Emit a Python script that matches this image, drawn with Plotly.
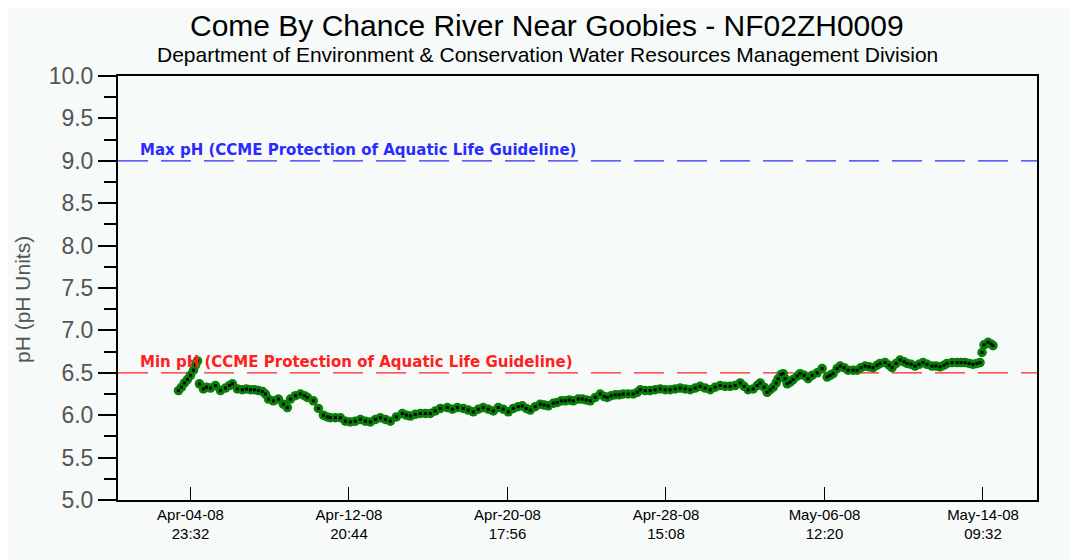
import pandas as pd
import plotly.graph_objects as go

# ---- data ----
start_time = "2008-04-04 23:32"
hours_from_start = [
    -14.3, -10.7, -7.2, -3.6, 0.0, 3.6, 6.0, 8.4, 10.7, 15.5, 19.1, 23.9, 29.8, 35.8, 41.8, 46.5,
    50.1, 56.1, 62.0, 66.8, 71.6, 76.4, 81.1, 85.9, 89.5, 93.1, 99.0, 105.0, 110.9, 115.7, 119.3,
    125.3, 131.2, 136.0, 139.6, 146.7, 152.7, 158.7, 163.4, 167.0, 173.0, 179.0, 184.9, 190.9,
    196.8, 202.8, 208.8, 214.7, 220.8, 226.7, 232.7, 238.6, 245.8, 252.9, 257.7, 262.5, 268.4,
    274.4, 280.4, 286.3, 292.3, 298.3, 306.6, 312.6, 318.6, 325.7, 331.7, 337.6, 343.6, 349.5,
    355.5, 361.5, 367.4, 373.4, 379.4, 385.3, 391.3, 396.1, 400.8, 405.6, 411.6, 417.6, 422.3,
    427.1, 433.1, 437.8, 442.6, 447.4, 452.1, 456.9, 462.9, 467.7, 472.4, 477.2, 483.2, 489.1,
    493.9, 497.5, 502.2, 507.0, 511.8, 516.6, 522.5, 528.5, 533.3, 536.9, 542.8, 548.8, 554.7,
    560.7, 566.7, 572.6, 578.6, 584.6, 590.5, 596.5, 602.5, 608.4, 614.4, 620.4, 626.3, 632.3,
    638.3, 644.2, 650.2, 656.2, 660.9, 665.7, 671.7, 676.5, 680.1, 684.8, 688.4, 692.0, 695.6,
    699.1, 701.5, 705.1, 707.5, 709.9, 712.3, 715.8, 719.4, 724.2, 727.7, 732.5, 737.3, 742.1,
    748.1, 754.0, 760.0, 763.5, 767.1, 771.9, 775.5, 780.2, 785.0, 791.0, 795.8, 800.5, 805.3,
    810.1, 814.8, 819.6, 823.2, 829.1, 833.9, 837.5, 842.3, 847.0, 851.8, 855.4, 860.2, 864.9,
    869.7, 874.5, 879.3, 885.2, 890.0, 894.8, 899.5, 903.1, 909.1, 915.1, 919.8, 924.6, 929.4,
    934.1, 938.9, 942.5, 944.9, 947.3, 952.1, 955.6, 958.0,
]
ph_values = [
    6.29, 6.33, 6.38, 6.42, 6.47, 6.53, 6.59, 6.64, 6.37, 6.31, 6.33, 6.32, 6.35, 6.29, 6.32, 6.35,
    6.37, 6.31, 6.30, 6.31, 6.30, 6.30, 6.29, 6.28, 6.25, 6.19, 6.17, 6.19, 6.13, 6.09, 6.19,
    6.23, 6.25, 6.23, 6.21, 6.17, 6.08, 6.00, 5.98, 5.97, 5.97, 5.97, 5.93, 5.92,
    5.93, 5.95, 5.93, 5.92, 5.95, 5.97, 5.95, 5.93, 5.98, 6.02, 6.00, 5.99, 6.01,
    6.02, 6.02, 6.02, 6.05, 6.08, 6.09, 6.07, 6.09, 6.08, 6.06, 6.04, 6.07, 6.09,
    6.07, 6.05, 6.09, 6.07, 6.04, 6.08, 6.10, 6.11, 6.08, 6.06, 6.10, 6.13, 6.12,
    6.11, 6.14, 6.15, 6.17, 6.17, 6.18, 6.17, 6.19, 6.19, 6.18, 6.17, 6.21, 6.25,
    6.22, 6.21, 6.23, 6.24, 6.24, 6.25, 6.25, 6.25, 6.27, 6.30, 6.29, 6.29, 6.30,
    6.31, 6.30, 6.30, 6.31, 6.32, 6.31, 6.30, 6.32, 6.34, 6.32, 6.30, 6.33, 6.35,
    6.34, 6.34, 6.35, 6.38, 6.34, 6.30, 6.31, 6.35, 6.38, 6.33, 6.27, 6.30, 6.33,
    6.38, 6.43, 6.48, 6.49, 6.43, 6.37, 6.39, 6.42, 6.46, 6.49, 6.47, 6.43, 6.47,
    6.50, 6.55, 6.45, 6.47, 6.49, 6.55, 6.58, 6.56, 6.53, 6.53, 6.53, 6.56, 6.58,
    6.57, 6.56, 6.59, 6.61, 6.62, 6.59, 6.56, 6.61, 6.65, 6.63, 6.61, 6.60, 6.58,
    6.60, 6.62, 6.60, 6.58, 6.58, 6.57, 6.59, 6.61, 6.62, 6.62, 6.62, 6.62, 6.61,
    6.60, 6.61, 6.62, 6.74, 6.83, 6.86, 6.84, 6.82,
]
tick_hours = [0.0, 189.2, 378.4, 567.6, 756.8, 946.0]
tick_labels = ["Apr-04-08<br>23:32", "Apr-12-08<br>20:44", "Apr-20-08<br>17:56",
               "Apr-28-08<br>15:08", "May-06-08<br>12:20", "May-14-08<br>09:32"]
x_range_hours = [-86.5, 1010.5]
y_range = [5.0, 10.0]
max_ph = 9.0
min_ph = 6.5
max_label = "Max pH (CCME Protection of Aquatic Life Guideline)"
min_label = "Min pH (CCME Protection of Aquatic Life Guideline)"
title_text = "Come By Chance River Near Goobies - NF02ZH0009"
subtitle_text = "Department of Environment & Conservation Water Resources Management Division"
y_title = "pH (pH Units)"

base = pd.Timestamp(start_time)
times = base + pd.to_timedelta(hours_from_start, unit="h")
tick_times = base + pd.to_timedelta(tick_hours, unit="h")
x_range = base + pd.to_timedelta(x_range_hours, unit="h")

bg = "#f6faf8"
fig = go.Figure()
fig.add_trace(go.Scatter(x=times, y=ph_values, mode="markers",
                         marker=dict(symbol="circle", size=9.5, color="#078007",
                                     line=dict(width=0)),
                         hoverinfo="skip", showlegend=False))
fig.add_trace(go.Scatter(x=times, y=ph_values, mode="markers",
                         marker=dict(symbol="square", size=3, color="#000000",
                                     line=dict(width=0)),
                         name="pH", showlegend=False))

for val, col, lab in [(max_ph, "#2b2bff", max_label), (min_ph, "#ff2020", min_label)]:
    fig.add_shape(type="line", xref="paper", x0=0, x1=1, yref="y", y0=val, y1=val,
                  line=dict(color=col, width=1.3, dash="30px,13px"), layer="below")
    fig.add_annotation(xref="paper", x=0.022, yref="y", y=val, text=lab,
                       xanchor="left", yanchor="bottom", showarrow=False,
                       font=dict(family="DejaVu Sans", size=15, color=col, weight="bold"),
                       yshift=0)

# plot area in page pixels: x 118..1037, y 76..500 (page has an 8px body offset)
fig.add_annotation(xref="paper", yref="paper", x=0.467, y=1 + (76 - 26) / 424,
                   text=title_text, showarrow=False, xanchor="center", yanchor="middle",
                   font=dict(family="Liberation Sans", size=30, color="#000000"))
fig.add_annotation(xref="paper", yref="paper", x=0.467, y=1 + (76 - 55) / 424,
                   text=subtitle_text, showarrow=False, xanchor="center", yanchor="middle",
                   font=dict(family="Liberation Sans", size=21, color="#000000"))
fig.add_annotation(xref="paper", yref="paper", x=(22 - 118) / 919, y=1 - (300 - 76) / 424,
                   text=y_title, showarrow=False, xanchor="center", yanchor="middle",
                   textangle=-90,
                   font=dict(family="Liberation Sans", size=21, color="#555555"))

fig.update_layout(
    width=1078, height=560,
    margin=dict(l=110, r=49, t=68, b=68),
    paper_bgcolor=bg, plot_bgcolor=bg,
    font=dict(family="Liberation Sans", color="#000000"),
    xaxis=dict(range=list(x_range), tickvals=list(tick_times), ticktext=tick_labels,
               ticks="inside", ticklen=13, tickcolor="#000000", tickwidth=1,
               showgrid=False, zeroline=False, showline=True, linecolor="#000000",
               linewidth=1.5, mirror=True, tickfont=dict(size=15, color="#000000")),
    yaxis=dict(range=y_range, dtick=0.5, tickformat=".1f", ticks="outside", ticklen=18,
               tickcolor="#000000", tickwidth=1.5,
               minor=dict(dtick=0.25, ticks="outside", ticklen=12, tickcolor="#000000",
                          tickwidth=1.5),
               showgrid=False, zeroline=False, showline=True, linecolor="#000000",
               linewidth=2, mirror=True,
               tickfont=dict(size=23, color="#555555")),
)

fig.write_html("out.html")
